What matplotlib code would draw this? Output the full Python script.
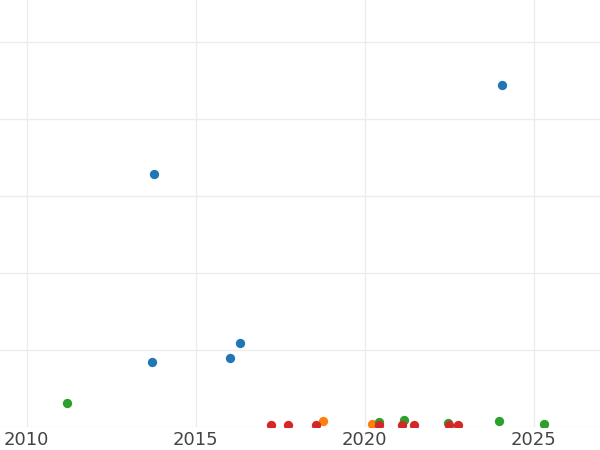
import matplotlib
matplotlib.use("Agg")
import matplotlib.pyplot as plt

# Data (x in fractional years, y in gridline units)
blue_x = [2013.78, 2024.06, 2013.71, 2016.02, 2016.31]
blue_y = [3.286, 4.44, 0.85, 0.90, 1.095]

orange_x = [2018.77, 2020.20]
orange_y = [0.078, 0.04]

green_x = [2011.21, 2020.43, 2021.16, 2022.45, 2023.97, 2025.30]
green_y = [0.312, 0.06, 0.09, 0.05, 0.08, 0.045]

red_x = [2017.22, 2017.72, 2018.56, 2020.43, 2021.09, 2021.46, 2022.50, 2022.75]
red_y = [0.02, 0.02, 0.02, 0.02, 0.02, 0.02, 0.02, 0.02]

xticks = [2010, 2015, 2020, 2025]
yticks = [0, 1, 2, 3, 4, 5]

fig = plt.figure(figsize=(6, 4.5), dpi=100)
ax = fig.add_axes([0, 23/450, 1, 427/450])

ms = 45
ax.scatter(blue_x, blue_y, s=ms, color="#1f77b4", zorder=3, linewidths=0)
ax.scatter(orange_x, orange_y, s=ms, color="#ff7f0e", zorder=3, linewidths=0)
ax.scatter(green_x, green_y, s=ms, color="#2ca02c", zorder=3, linewidths=0)
ax.scatter(red_x, red_y, s=ms, color="#d62728", zorder=3, linewidths=0)

ax.set_xlim(2010 - 26.5/33.83, 2010 + 573.5/33.83)
ax.set_ylim(0, 427/77)
ax.set_xticks(xticks)
ax.set_xticklabels([str(t) for t in xticks])
ax.set_yticks(yticks)
ax.set_yticklabels([])
ax.tick_params(axis="both", length=0, labelsize=13, labelcolor="#444444", pad=3)
ax.grid(True, color="#ececec", linewidth=1.0, zorder=0)
ax.set_axisbelow(True)
for s in ax.spines.values():
    s.set_visible(False)

fig.savefig("out.png", dpi=100)
